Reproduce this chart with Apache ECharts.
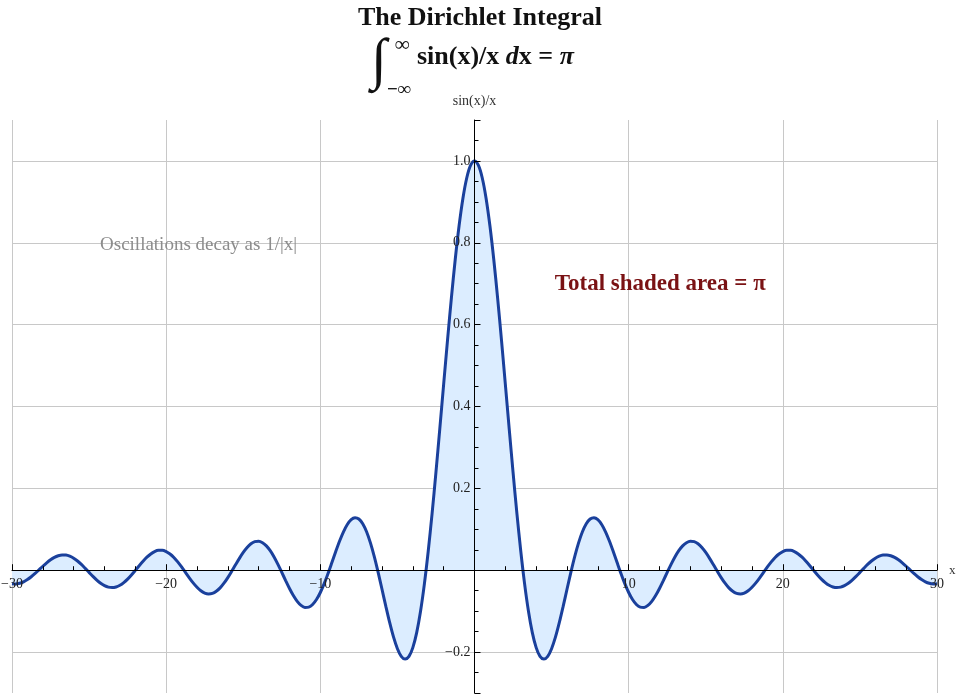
<!DOCTYPE html>
<html lang="en">
<head>
    <meta charset="UTF-8">
    <title>The Dirichlet Integral</title>
    <script src="https://cdn.jsdelivr.net/npm/echarts@6/dist/echarts.min.js"></script>
    <style>
        html, body { margin: 0; padding: 0; background: #fff; }
        #main { width: 960px; height: 695px; }
    </style>
</head>
<body>
<div id="main"></div>
<script type="text/javascript">
    // sample positions (step 0.25) and sin(x)/x
    var xs = [
        -30, -29.75, -29.5, -29.25, -29, -28.75, -28.5, -28.25, -28, -27.75,
        -27.5, -27.25, -27, -26.75, -26.5, -26.25, -26, -25.75, -25.5, -25.25,
        -25, -24.75, -24.5, -24.25, -24, -23.75, -23.5, -23.25, -23, -22.75,
        -22.5, -22.25, -22, -21.75, -21.5, -21.25, -21, -20.75, -20.5, -20.25,
        -20, -19.75, -19.5, -19.25, -19, -18.75, -18.5, -18.25, -18, -17.75,
        -17.5, -17.25, -17, -16.75, -16.5, -16.25, -16, -15.75, -15.5, -15.25,
        -15, -14.75, -14.5, -14.25, -14, -13.75, -13.5, -13.25, -13, -12.75,
        -12.5, -12.25, -12, -11.75, -11.5, -11.25, -11, -10.75, -10.5, -10.25,
        -10, -9.75, -9.5, -9.25, -9, -8.75, -8.5, -8.25, -8, -7.75,
        -7.5, -7.25, -7, -6.75, -6.5, -6.25, -6, -5.75, -5.5, -5.25,
        -5, -4.75, -4.5, -4.25, -4, -3.75, -3.5, -3.25, -3, -2.75,
        -2.5, -2.25, -2, -1.75, -1.5, -1.25, -1, -0.75, -0.5, -0.25,
        0,
        0.25, 0.5, 0.75, 1, 1.25, 1.5, 1.75, 2, 2.25, 2.5,
        2.75, 3, 3.25, 3.5, 3.75, 4, 4.25, 4.5, 4.75, 5,
        5.25, 5.5, 5.75, 6, 6.25, 6.5, 6.75, 7, 7.25, 7.5,
        7.75, 8, 8.25, 8.5, 8.75, 9, 9.25, 9.5, 9.75, 10,
        10.25, 10.5, 10.75, 11, 11.25, 11.5, 11.75, 12, 12.25, 12.5,
        12.75, 13, 13.25, 13.5, 13.75, 14, 14.25, 14.5, 14.75, 15,
        15.25, 15.5, 15.75, 16, 16.25, 16.5, 16.75, 17, 17.25, 17.5,
        17.75, 18, 18.25, 18.5, 18.75, 19, 19.25, 19.5, 19.75, 20,
        20.25, 20.5, 20.75, 21, 21.25, 21.5, 21.75, 22, 22.25, 22.5,
        22.75, 23, 23.25, 23.5, 23.75, 24, 24.25, 24.5, 24.75, 25,
        25.25, 25.5, 25.75, 26, 26.25, 26.5, 26.75, 27, 27.25, 27.5,
        27.75, 28, 28.25, 28.5, 28.75, 29, 29.25, 29.5, 29.75, 30
    ];
    var ys = [
        -0.0329, -0.0335, -0.0319, -0.0283, -0.0229, -0.0159, -0.0079, 0.0009, 0.0097, 0.0180,
        0.0254, 0.0314, 0.0354, 0.0373, 0.0370, 0.0342, 0.0293, 0.0225, 0.0141, 0.0046,
        -0.0053, -0.0151, -0.0241, -0.0319, -0.0377, -0.0414, -0.0425, -0.0409, -0.0368, -0.0302,
        -0.0217, -0.0115, -0.0004, 0.0110, 0.0219, 0.0318, 0.0398, 0.0456, 0.0486, 0.0487,
        0.0456, 0.0397, 0.0311, 0.0203, 0.0079, -0.0053, -0.0185, -0.0309, -0.0417, -0.0502,
        -0.0558, -0.0579, -0.0566, -0.0515, -0.0431, -0.0317, -0.0180, -0.0027, 0.0133, 0.0290,
        0.0434, 0.0555, 0.0645, 0.0697, 0.0708, 0.0673, 0.0595, 0.0477, 0.0323, 0.0143,
        -0.0053, -0.0254, -0.0447, -0.0620, -0.0761, -0.0860, -0.0909, -0.0902, -0.0838, -0.0717,
        -0.0544, -0.0328, -0.0079, 0.0188, 0.0458, 0.0714, 0.0939, 0.1118, 0.1237, 0.1283,
        0.1251, 0.1135, 0.0939, 0.0667, 0.0331, -0.0053, -0.0466, -0.0884, -0.1283, -0.1636,
        -0.1918, -0.2104, -0.2172, -0.2106, -0.1892, -0.1524, -0.1002, -0.0333, 0.0470, 0.1388,
        0.2394, 0.3458, 0.4546, 0.5623, 0.6650, 0.7592, 0.8415, 0.9089, 0.9589, 0.9896,
        1.0,
        0.9896, 0.9589, 0.9089, 0.8415, 0.7592, 0.6650, 0.5623, 0.4546, 0.3458, 0.2394,
        0.1388, 0.0470, -0.0333, -0.1002, -0.1524, -0.1892, -0.2106, -0.2172, -0.2104, -0.1918,
        -0.1636, -0.1283, -0.0884, -0.0466, -0.0053, 0.0331, 0.0667, 0.0939, 0.1135, 0.1251,
        0.1283, 0.1237, 0.1118, 0.0939, 0.0714, 0.0458, 0.0188, -0.0079, -0.0328, -0.0544,
        -0.0717, -0.0838, -0.0902, -0.0909, -0.0860, -0.0761, -0.0620, -0.0447, -0.0254, -0.0053,
        0.0143, 0.0323, 0.0477, 0.0595, 0.0673, 0.0708, 0.0697, 0.0645, 0.0555, 0.0434,
        0.0290, 0.0133, -0.0027, -0.0180, -0.0317, -0.0431, -0.0515, -0.0566, -0.0579, -0.0558,
        -0.0502, -0.0417, -0.0309, -0.0185, -0.0053, 0.0079, 0.0203, 0.0311, 0.0397, 0.0456,
        0.0487, 0.0486, 0.0456, 0.0398, 0.0318, 0.0219, 0.0110, -0.0004, -0.0115, -0.0217,
        -0.0302, -0.0368, -0.0409, -0.0425, -0.0414, -0.0377, -0.0319, -0.0241, -0.0151, -0.0053,
        0.0046, 0.0141, 0.0225, 0.0293, 0.0342, 0.0370, 0.0373, 0.0354, 0.0314, 0.0254,
        0.0180, 0.0097, 0.0009, -0.0079, -0.0159, -0.0229, -0.0283, -0.0319, -0.0335, -0.0329
    ];
    var notes = ['Oscillations decay as 1/|x|', 'Total shaded area = \u03c0'];
    var noteX = [-17.9, 12.05];
    var noteY = [0.795, 0.70];

    var xMin = -30, xMax = 30, yMin = -0.3, yMax = 1.1;
    var gridL = 12, gridR = 23, gridT = 120, gridB = 2;
    var W = 960, H = 695;

    var points = [];
    for (var i = 0; i < xs.length; i++) {
        points.push([xs[i], ys[i]]);
    }

    // axes cross at the origin: shift them into the plot by the origin's distance from the edge
    var xAxisShift = -(0 - yMin) / (yMax - yMin) * (H - gridT - gridB);
    var yAxisShift = -(0 - xMin) / (xMax - xMin) * (W - gridL - gridR);

    var serif = '"Liberation Serif", "DejaVu Serif", serif';
    var gridColor = '#c8c8c8';

    function minus(s) {
        return String(s).replace('-', '\u2212');
    }

    var chart = echarts.init(document.getElementById('main'));
    chart.setOption({
        animation: false,
        textStyle: { fontFamily: serif },
        title: {
            text: 'The Dirichlet Integral',
            left: 'center',
            top: 0,
            textStyle: { fontFamily: serif, fontSize: 26, fontWeight: 'bold', color: '#111' }
        },
        graphic: [
            { type: 'text', left: 371, top: 35,
              style: { text: '\u222b', font: '57px ' + serif, fill: '#111' } },
            { type: 'text', left: 395, top: 35,
              style: { text: '\u221e', font: 'bold 21px ' + serif, fill: '#111' } },
            { type: 'text', left: 387, top: 81,
              style: { text: '\u2212\u221e', font: 'bold 19px ' + serif, fill: '#111' } },
            { type: 'text', left: 417, top: 44,
              style: {
                  text: 'sin(x)/x {i|d}x = {i|\u03c0}',
                  font: 'bold 26px ' + serif, fill: '#111',
                  rich: { i: { fontStyle: 'italic', fontWeight: 'bold', fontSize: 26, fontFamily: serif } }
              } }
        ],
        grid: { left: gridL, right: gridR, top: gridT, bottom: gridB,
                containLabel: false, outerBoundsMode: 'none' },
        xAxis: [{
            // drawn axis through the origin, above the filled curve
            type: 'value',
            min: xMin,
            max: xMax,
            interval: 10,
            position: 'bottom',
            offset: xAxisShift,
            z: 5,
            name: 'x',
            nameLocation: 'end',
            nameGap: 12,
            nameTextStyle: { fontFamily: serif, fontSize: 13, color: '#333', verticalAlign: 'middle' },
            axisLine: { onZero: false, lineStyle: { color: '#000', width: 1 } },
            axisTick: { show: true, inside: true, length: 6, lineStyle: { color: '#000' } },
            minorTick: { show: true, splitNumber: 5, length: 4, lineStyle: { color: '#000' } },
            axisLabel: {
                fontFamily: serif, fontSize: 14, color: '#222', margin: 7,
                formatter: function (v) { return v === 0 ? '' : minus(v); }
            },
            splitLine: { show: false }
        }, {
            // grid lines only, under the fill
            type: 'value',
            min: xMin,
            max: xMax,
            interval: 10,
            z: 0,
            axisLine: { show: false },
            axisTick: { show: false },
            axisLabel: { show: false },
            splitLine: { show: true, lineStyle: { color: gridColor, width: 1 } }
        }],
        yAxis: [{
            type: 'value',
            min: yMin,
            max: yMax,
            splitNumber: 7,
            position: 'left',
            offset: yAxisShift,
            z: 5,
            name: 'sin(x)/x',
            nameLocation: 'end',
            nameGap: 12,
            nameTextStyle: { fontFamily: serif, fontSize: 14, color: '#333', align: 'center' },
            axisLine: { onZero: false, lineStyle: { color: '#000', width: 1 } },
            axisTick: { show: true, inside: true, length: 6, lineStyle: { color: '#000' } },
            minorTick: { show: true, splitNumber: 4, length: 4, lineStyle: { color: '#000' } },
            axisLabel: {
                fontFamily: serif, fontSize: 14, color: '#222', margin: 4,
                showMinLabel: false, showMaxLabel: false,
                formatter: function (v) { return v === 0 ? '' : minus(v.toFixed(1)); }
            },
            splitLine: { show: false }
        }, {
            type: 'value',
            min: yMin,
            max: yMax,
            splitNumber: 7,
            z: 0,
            axisLine: { show: false },
            axisTick: { show: false },
            axisLabel: { show: false },
            splitLine: { show: true, showMinLine: false, showMaxLine: false,
                         lineStyle: { color: gridColor, width: 1 } }
        }],
        series: [{
            name: 'sin(x)/x',
            type: 'line',
            xAxisIndex: 0,
            yAxisIndex: 0,
            data: points,
            smooth: 0.3,
            showSymbol: false,
            z: 3,
            lineStyle: { color: '#1a409c', width: 3 },
            areaStyle: { color: '#dcedff', opacity: 1, origin: 0 },
            markPoint: {
                symbol: 'circle',
                symbolSize: 0,
                silent: true,
                data: [{
                    coord: [noteX[0], noteY[0]],
                    label: { show: true, formatter: notes[0], position: 'inside',
                             fontFamily: serif, fontSize: 19, color: '#8c8c8c' }
                }, {
                    coord: [noteX[1], noteY[1]],
                    label: { show: true, formatter: notes[1], position: 'inside',
                             fontFamily: serif, fontSize: 23, fontWeight: 'bold', color: '#7a1214' }
                }]
            }
        }]
    });
</script>
</body>
</html>
